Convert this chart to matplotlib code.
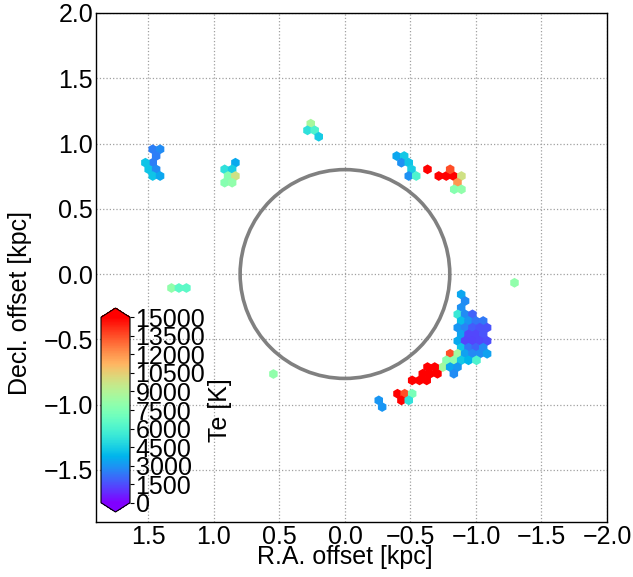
import numpy as np
import matplotlib
matplotlib.use("Agg")
import matplotlib.pyplot as plt
from matplotlib.patches import Circle

plt.rcParams['font.family'] = ['Liberation Sans', 'DejaVu Sans']

# Hex-binned electron temperature map: (R.A. offset, Decl. offset) in kpc, Te in K
ra_kpc = [
    # north-west arc
    -0.395, -0.452, -0.431, -0.487, -0.508, -0.487, -0.544,
    -0.630, -0.716, -0.773, -0.828, -0.803, -0.889, -0.859, -0.834, -0.889,
    # western complex
    -0.887, -0.917, -0.887,
    -0.861, -0.917, -0.973,
    -0.887, -0.943, -0.999, -1.055,
    -0.861, -0.917, -0.973, -1.029, -1.085,
    -0.887, -0.943, -0.999, -1.055,
    -0.861, -0.917, -0.973, -1.029, -1.085,
    -0.887, -0.943, -0.999, -1.055,
    -0.803, -0.861, -0.917, -0.973, -1.029, -1.085,
    -0.775, -0.831, -0.887, -0.943, -1.004,
    -0.747, -0.803, -0.859,
    -0.831,
    # south-west knots
    -0.630, -0.685,
    -0.594, -0.650, -0.706,
    -0.513, -0.569, -0.624,
    -0.401, -0.456, -0.513,
    -0.431, -0.487,
    -0.258, -0.284,
    # isolated patches
    -1.294, 0.546,
    0.261, 0.286, 0.231, 0.200,
    1.467, 1.411, 1.441, 1.467, 1.523, 1.498, 1.441, 1.467, 1.411,
    0.836, 0.918, 0.861, 0.892, 0.836, 0.918, 0.861,
    1.324, 1.267, 1.210,
]
dec_kpc = [
    0.904, 0.904, 0.853, 0.853, 0.802, 0.751, 0.751,
    0.802, 0.751, 0.751, 0.751, 0.802, 0.751, 0.700, 0.649, 0.649,
    -0.156, -0.207, -0.258,
    -0.309, -0.309, -0.309,
    -0.360, -0.360, -0.360, -0.360,
    -0.411, -0.411, -0.411, -0.411, -0.411,
    -0.462, -0.462, -0.462, -0.462,
    -0.513, -0.513, -0.513, -0.513, -0.513,
    -0.565, -0.565, -0.565, -0.565,
    -0.611, -0.611, -0.611, -0.611, -0.611, -0.611,
    -0.661, -0.661, -0.661, -0.661, -0.661,
    -0.713, -0.713, -0.713,
    -0.764,
    -0.713, -0.713,
    -0.764, -0.764, -0.764,
    -0.815, -0.815, -0.815,
    -0.917, -0.917, -0.917,
    -0.968, -0.968,
    -0.968, -1.019,
    -0.067, -0.766,
    1.152, 1.101, 1.101, 1.052,
    0.956, 0.956, 0.904, 0.853, 0.853, 0.802, 0.802, 0.751, 0.751,
    0.853, 0.802, 0.802, 0.751, 0.751, 0.700, 0.700,
    -0.107, -0.107, -0.107,
]
te_k = [
    3400, 4300, 2900, 4200, 4500, 2900, 6000,
    15500, 15500, 15500, 15500, 13500, 9800, 12000, 7700, 8000,
    3400, 2800, 2900,
    5500, 2800, 1900,
    4000, 3000, 2300, 2400,
    3000, 2600, 1800, 1600, 1600,
    3300, 1400, 1400, 1600,
    3500, 1300, 1300, 1400, 1500,
    4200, 2300, 1900, 2800,
    13500, 8500, 3300, 2700, 2800, 3300,
    7700, 7900, 4300, 3800, 6000,
    8500, 3400, 3100,
    2800,
    15500, 15500,
    15500, 15500, 15500,
    15500, 15500, 15500,
    15500, 13500, 7300,
    15500, 5200,
    3000, 3000,
    8000, 8000,
    8700, 5100, 6000, 4400,
    2500, 2800, 2500, 2500, 4200, 4200, 2800, 4200, 3400,
    3500, 5100, 4500, 7700, 9800, 7700, 8000,
    8000, 6500, 6500,
]

xticks = [1.5, 1.0, 0.5, 0.0, -0.5, -1.0, -1.5, -2.0]
yticks = [-1.5, -1.0, -0.5, 0.0, 0.5, 1.0, 1.5, 2.0]
cbar_ticks = list(range(0, 15001, 1500))
ring_radius = 0.8

fig = plt.figure(figsize=(6.33, 5.77), dpi=100)
ax = fig.add_axes([96 / 633, 55 / 577, 511 / 633, 509 / 577])

sc = ax.scatter(ra_kpc, dec_kpc, c=te_k, cmap='rainbow', vmin=0, vmax=15000,
                marker='h', s=50, edgecolors='none', zorder=3)

ax.add_patch(Circle((0, 0), ring_radius, fill=False, edgecolor='#808080',
                    linewidth=2.6, zorder=4))

ax.set_xlim(1.9, -2.0)
ax.set_ylim(-1.9, 2.0)
ax.set_xticks(xticks)
ax.set_yticks(yticks)
ax.tick_params(labelsize=18, length=0, pad=2)
ax.grid(True, linestyle=':', color='#a0a0a0', linewidth=0.9)
ax.set_axisbelow(True)
ax.set_xlabel('R.A. offset [kpc]', fontsize=18)
ax.set_ylabel('Decl. offset [kpc]', fontsize=18)
ax.xaxis.set_label_coords(0.487, -0.045, transform=ax.transAxes)
ax.xaxis.label.set_va('top')
ax.yaxis.set_label_coords(-0.125, 0.43, transform=ax.transAxes)
for sp in ax.spines.values():
    sp.set_linewidth(1.0)

cax = fig.add_axes([101 / 633, 65 / 577, 29 / 633, 204 / 577])
cb = fig.colorbar(sc, cax=cax, extend='both', ticks=cbar_ticks)
cb.ax.tick_params(labelsize=18, length=3, pad=1)
cb.set_label('Te [K]', fontsize=18, labelpad=2)

fig.savefig('out.png', dpi=100)
